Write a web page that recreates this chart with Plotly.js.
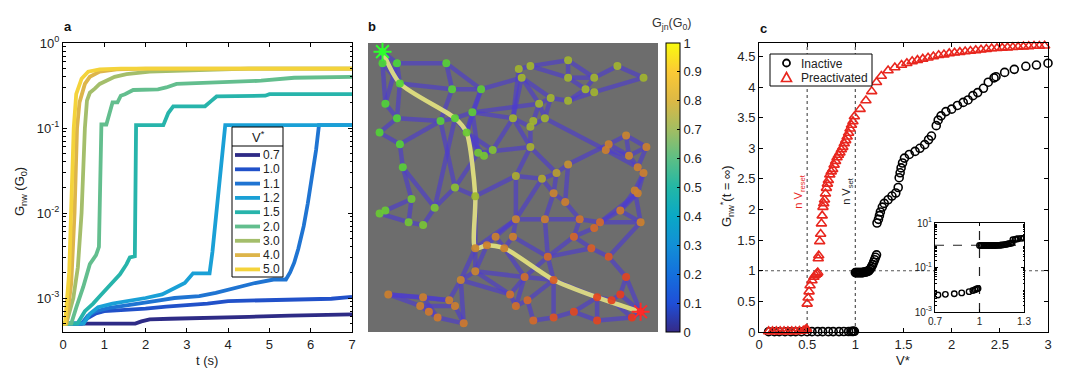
<!DOCTYPE html>
<html><head><meta charset="utf-8">
<script src="https://cdn.plot.ly/plotly-3.0.1.min.js"></script>
<style>body{margin:0;background:#fff}#chart{width:1080px;height:377px}</style>
</head><body><div id="chart"></div>
<script>
// ================= Panel a : G_nw(t) for several V* =================
const vLabels = ['0.7','1.0','1.1','1.2','1.5','2.0','3.0','4.0','5.0'];
const lineColors = ['#2e2b86','#2151c9','#1f74d2','#1aa0d6','#27b4ab','#63be8e','#a4be6b','#ddb54a','#f4d33b'];
const t07 = [0,1.75,1.9,2.1,2.6,3.5,4.5,5.5,7.0];
const g07 = [5.0e-4,5.0e-4,5.3e-4,5.6e-4,5.7e-4,5.9e-4,6.0e-4,6.2e-4,6.4e-4];
const t10 = [0,0.45,0.6,0.8,1.0,1.5,2.0,2.5,3.0,3.5,4.0,4.5,5.5,6.5,7.0];
const g10 = [5e-4,5e-4,5.8e-4,6.6e-4,7.0e-4,7.2e-4,7.5e-4,7.9e-4,8.2e-4,8.6e-4,9.2e-4,9.3e-4,9.5e-4,9.8e-4,1.03e-3];
const t11 = [0,0.45,0.6,0.8,1.1,1.5,1.9,2.3,2.7,3.3,3.7,4.0,4.3,4.65,5.1,5.4,5.5,5.6,5.7,5.83,5.93,6.03,6.13,6.2,7.0];
const g11 = [5e-4,5e-4,6.2e-4,7.0e-4,7.6e-4,8.2e-4,8.7e-4,9.3e-4,1.0e-3,1.05e-3,1.15e-3,1.25e-3,1.35e-3,1.5e-3,1.65e-3,1.65e-3,2.0e-3,2.6e-3,3.8e-3,7e-3,0.013,0.026,0.055,0.108,0.108];
const t12 = [0,0.5,0.65,0.85,1.2,1.6,2.0,2.4,2.7,2.95,3.15,3.55,3.62,3.7,3.78,3.86,3.93,7.0];
const g12 = [5e-4,5e-4,6.5e-4,7.8e-4,8.6e-4,9.2e-4,1.0e-3,1.1e-3,1.3e-3,1.5e-3,1.95e-3,1.95e-3,3.5e-3,8e-3,0.02,0.05,0.108,0.108];
const t15 = [0,0.35,0.53,0.73,0.89,1.13,1.38,1.54,1.62,1.74,1.77,2.43,2.55,2.67,3.44,3.6,3.72,4.9,5.0,7.0];
const g15 = [5e-4,5e-4,7e-4,8.6e-4,1.05e-3,1.4e-3,1.9e-3,2.5e-3,3.0e-3,3.1e-3,0.108,0.108,0.15,0.18,0.18,0.21,0.235,0.24,0.25,0.25];
const t20 = [0,0.2,0.32,0.49,0.65,0.8,0.87,0.93,1.05,1.12,1.2,1.32,1.4,1.5,1.7,2.3,2.5,2.75,3.5,4.8,5.6,7.0];
const g20 = [5e-4,5e-4,7.7e-4,1.35e-3,2.5e-3,3.2e-3,4e-3,0.11,0.11,0.15,0.2,0.2,0.24,0.25,0.28,0.285,0.3,0.33,0.34,0.36,0.39,0.4];
const t30 = [0,0.08,0.25,0.36,0.45,0.53,0.58,0.65,0.77,0.89,1.05,1.25,1.54,2.1,3.3,4.5,7.0];
const g30 = [5e-4,5e-4,1.0e-3,2.3e-3,0.01,0.1,0.21,0.26,0.29,0.33,0.36,0.4,0.43,0.46,0.48,0.5,0.5];
const t40 = [0,0.08,0.2,0.28,0.34,0.4,0.53,0.65,0.89,1.3,2.0,7.0];
const g40 = [5e-4,5e-4,1.5e-3,0.01,0.1,0.2,0.33,0.4,0.46,0.49,0.5,0.5];
const t50 = [0,0.05,0.15,0.2,0.26,0.32,0.45,0.61,0.89,1.4,7.0];
const g50 = [5e-4,5e-4,2e-3,0.01,0.1,0.25,0.38,0.46,0.49,0.5,0.5];
const seriesT = [t07,t10,t11,t12,t15,t20,t30,t40,t50];
const seriesG = [g07,g10,g11,g12,g15,g20,g30,g40,g50];
const aXTicks = [0,1,2,3,4,5,6,7];
const aYTickVals = [1e-3,1e-2,1e-1,1];
const aYTickText = ['10<sup>-3</sup>','10<sup>-2</sup>','10<sup>-1</sup>','10<sup>0</sup>'];

// ================= Panel b : network =================
const nodeX = [5,5,10,27,11,6,29,39,10,25, 30,36,4,11,34,38,40,43,12,30, 15,23,6,4,14,19,37,52,56,69,
  86,95,53,69,78,75,78,63,69,59, 50,61,57,56,56,65,51,60,89,83, 82,90,96,93,95,69,92,93,87,94,
  64,68,51,61,73,80,78,71,77,83, 62,37,44,47,50,41,37,32,54,64, 89,7,19,18,28,30,21,24,33,49,
  51,55,57,64,71,79,79,84,87,91, 94];
const nodeY = [97,93,93,93,86,79,84,84,74,73, 74,76,69,65,69,62,61,63,57,50, 46,43,42,41,38,37,47,91,92,94,
  92,88,88,88,88,84,83,81,80,79, 74,74,73,71,64,55,54,53,68,65, 63,61,64,57,55,58,49,48,42,38,
  48,45,39,39,39,38,36,33,29,26, 26,29,33,29,33,30,21,18,19,18, 19,13,12,9,11,9,7,5,3,13,
  9,11,4,5,7,4,12,11,13,5, 7];
const nodeV = [1.0,0.97,0.97,0.93,0.95,0.95,0.92,0.9,0.95,0.92, 0.92,0.9,0.95,0.94,0.88,0.86,0.85,0.82,0.92,0.8,
  0.86,0.84,0.88,0.88,0.86,0.84,0.74,0.72,0.72,0.72, 0.72,0.72,0.72,0.72,0.72,0.72,0.72,0.72,0.72,0.72,
  0.72,0.72,0.72,0.72,0.70,0.62,0.68,0.66,0.52,0.5, 0.5,0.52,0.5,0.5,0.5,0.56,0.5,0.5,0.48,0.5,
  0.52,0.5,0.52,0.5,0.47,0.42,0.42,0.4,0.36,0.32, 0.42,0.52,0.5,0.5,0.5,0.5,0.52,0.52,0.45,0.35,
  0.22,0.5,0.5,0.5,0.5,0.5,0.48,0.48,0.48,0.46, 0.45,0.42,0.42,0.3,0.25,0.22,0.2,0.18,0.16,0.12, 0.0];
const edges = [[1,2],[1,3],[2,6],[3,6],[2,5],[1,5],[3,4],[3,5],[4,8],[4,7],[5,7],[7,8],[5,9],[7,10],[8,12],[11,12],
  [10,11],[8,15],[12,15],[9,13],[13,14],[14,10],[9,10],[11,15],[15,16],[15,17],[16,17],[17,18],[12,40],[12,16],
  [14,19],[19,21],[19,22],[21,23],[21,25],[23,24],[24,25],[25,26],[22,26],[22,20],[20,10],[20,27],[20,16],[16,45],
  [18,41],[15,18],[22,11],[12,41],[8,33],[6,9],
  [28,29],[29,30],[30,34],[33,28],[29,34],[33,38],[34,35],[35,31],[31,32],[32,37],[35,36],[36,37],[34,36],[38,39],
  [39,36],[38,40],[33,40],[40,43],[43,44],[44,42],[42,38],[41,44],[41,45],[44,45],[45,47],[45,46],[47,48],[48,46],
  [46,56],[56,50],[50,49],[49,53],[53,52],[52,51],[51,50],[49,52],[53,54],[54,55],[55,57],[57,58],[58,59],[59,60],
  [57,59],[42,51],[33,41],[28,41],[39,37],[30,35],[40,42],[52,54],[51,54],[50,52],
  [46,61],[48,61],[61,62],[61,64],[62,65],[63,64],[64,65],[65,66],[66,67],[67,68],[68,69],[69,70],[65,68],[66,59],
  [58,66],[60,70],[56,62],[47,63],[48,63],[27,72],[63,72],[72,76],[76,73],[73,74],[74,75],[75,63],[73,63],[72,77],
  [77,78],[76,77],[79,80],[71,80],[71,69],[71,64],[70,81],[81,99],[81,101],[80,97],[79,90],[90,91],[91,92],[92,93],
  [93,94],[94,95],[95,96],[96,100],[100,101],[97,98],[98,99],[99,101],[97,95],[98,100],[97,96],[82,83],[82,84],
  [83,85],[84,87],[85,86],[86,89],[87,88],[88,89],[83,88],[85,78],[82,85],[84,86],[78,90],[77,79],[72,78],[71,79],
  [80,94],[80,92],[74,79],[75,71],[79,91],[78,89],[77,90],[68,71],[57,60],[55,58],[47,27],[60,66]];
const pathNodes = [1,5,11,15,27,72,76,74,80,97,101];
const sourceNode = 1, drainNode = 101;
const cbTickVals = [0,0.1,0.2,0.3,0.4,0.5,0.6,0.7,0.8,0.9,1];
const cbTickText = ['0','0.1','0.2','0.3','0.4','0.5','0.6','0.7','0.8','0.9','1'];
const parula = [[0,'#352a87'],[0.1,'#1f4fd8'],[0.2,'#1470dd'],[0.3,'#128fd6'],[0.4,'#0aa8c6'],[0.5,'#22b7a6'],
  [0.6,'#5cbf85'],[0.7,'#a2bd62'],[0.8,'#dcb845'],[0.9,'#fbc935'],[1,'#f9fb0e']];
const nodeScale = [[0,'#f02818'],[0.25,'#e04a20'],[0.45,'#d0702a'],[0.55,'#c89030'],[0.7,'#a8b22c'],[0.8,'#8cc030'],[0.9,'#60cc34'],[1,'#44dc38']];

// ================= Panel c : G_nw*(t=inf) vs V* =================
const inactiveV = [0.10,0.16,0.21,0.27,0.33,0.38,0.44,0.50,0.55,0.61,0.66,0.72,0.77,0.83,0.88,0.93,0.955,0.97,0.98,0.99,
  1.00,1.01,1.02,1.03,1.04,1.05,1.06,1.07,1.08,1.09,1.10,1.11,1.12,1.13,1.14,1.15,1.16,1.17,1.18,1.19,1.20,1.21,1.22,
  1.225,1.24,1.25,1.26,1.28,1.30,1.34,1.38,1.42,1.445,1.455,1.465,1.475,1.49,1.51,1.56,1.62,1.67,1.72,1.76,
  1.79,1.84,1.86,1.89,1.94,2.00,2.06,2.12,2.17,2.22,2.27,2.33,2.38,2.44,2.46,2.55,2.65,2.77,2.88,3.00];
const inactiveG = [0.005,0.005,0.005,0.005,0.005,0.005,0.005,0.005,0.0054,0.0056,0.0057,0.0058,0.0062,0.0066,0.0072,0.0082,0.0092,0.0100,0.0108,0.0115,
  0.97,0.97,0.97,0.97,0.97,0.97,0.97,0.97,0.97,0.98,0.98,0.98,0.99,0.99,1.0,1.02,1.04,1.07,1.1,1.14,1.18,1.22,1.26,
  1.78,1.84,1.90,1.96,2.04,2.10,2.16,2.22,2.27,2.36,2.52,2.60,2.68,2.76,2.84,2.90,2.95,3.00,3.06,3.14,
  3.20,3.37,3.46,3.53,3.60,3.64,3.70,3.75,3.79,3.86,3.91,3.98,4.08,4.15,4.17,4.24,4.29,4.34,4.36,4.39];
const preV = [0.10,0.14,0.18,0.22,0.26,0.30,0.34,0.38,0.42,0.46,0.48,0.49,0.495,
  0.50,0.51,0.52,0.53,0.55,0.57,0.585,0.60,0.61,0.615,0.62,0.63,0.64,0.648,0.656,0.664,0.672,0.68,0.69,0.70,
  0.71,0.72,0.735,0.75,0.765,0.78,0.795,0.81,0.825,0.84,0.855,0.87,0.885,0.90,0.915,0.93,0.945,0.96,0.975,0.99,
  1.05,1.11,1.17,1.22,1.27,1.34,1.41,1.48,1.535,1.59,1.645,1.70,1.755,1.81,1.865,1.92,1.975,2.03,2.085,2.14,2.195,
  2.25,2.305,2.36,2.415,2.47,2.525,2.58,2.635,2.69,2.745,2.80,2.855,2.91,2.965,3.02];
const preG = [0.01,0.01,0.01,0.01,0.01,0.01,0.01,0.01,0.015,0.02,0.03,0.04,0.05,
  0.46,0.56,0.66,0.76,0.84,0.90,0.93,0.95,0.97,1.20,1.25,1.48,1.60,1.77,1.90,2.04,2.10,2.16,2.26,2.35,
  2.42,2.48,2.57,2.62,2.66,2.73,2.79,2.85,2.89,2.93,2.98,3.02,3.08,3.13,3.19,3.25,3.32,3.38,3.44,3.52,
  3.64,3.78,3.93,4.08,4.18,4.27,4.32,4.36,4.39,4.42,4.44,4.46,4.48,4.50,4.52,4.53,4.55,4.56,4.57,4.58,4.59,
  4.60,4.61,4.62,4.63,4.635,4.64,4.645,4.65,4.655,4.66,4.665,4.67,4.67,4.675,4.68];
const vReset = 0.5, vSet = 1.0, gRef = 1.0;
const insetXTicks = [0.7,1,1.3];
const insetXText = ['0.7','1','1.3'];
const insetYTicks = [1e-3,1e-1,10];
const insetYText = ['10<sup>-3</sup>','10<sup>-1</sup>','10<sup>1</sup>'];
const legendC = ['Inactive','Preactivated'];
const inactiveColor = '#000000', preColor = '#e8261e';

// ================= build =================
const FONT = 'Liberation Sans, Arial, sans-serif';
const W = 1080, H = 377;
const px = x => x / W, py = y => 1 - y / H;
const traces = [];

seriesT.forEach((t, i) => traces.push({
  type:'scatter', mode:'lines', x:t, y:seriesG[i], xaxis:'x', yaxis:'y',
  line:{color:lineColors[i], width:3.8}, hoverinfo:'skip', showlegend:false
}));

// network edges
const ex = [], ey = [];
edges.forEach(([a,b]) => { ex.push(nodeX[a-1], nodeX[b-1], null); ey.push(nodeY[a-1], nodeY[b-1], null); });
traces.push({type:'scatter', mode:'lines', x:ex, y:ey, xaxis:'x2', yaxis:'y2',
  line:{color:'rgba(76,60,208,0.64)', width:4.5}, hoverinfo:'skip', showlegend:false});
traces.push({type:'scatter', mode:'lines', x:pathNodes.map(n=>nodeX[n-1]), y:pathNodes.map(n=>nodeY[n-1]),
  xaxis:'x2', yaxis:'y2', line:{color:'rgba(230,228,128,0.9)', width:4.5, shape:'spline', smoothing:0.7},
  hoverinfo:'skip', showlegend:false});
traces.push({type:'scatter', mode:'markers', x:nodeX, y:nodeY, xaxis:'x2', yaxis:'y2', cliponaxis:false,
  marker:{size:8, color:nodeV, colorscale:nodeScale, cmin:0, cmax:1, opacity:0.92, line:{width:0}},
  hoverinfo:'skip', showlegend:false});
traces.push({type:'scatter', mode:'markers', x:[nodeX[sourceNode-1]], y:[nodeY[sourceNode-1]], xaxis:'x2', yaxis:'y2',
  cliponaxis:false, marker:{symbol:'asterisk-open', size:15, color:'#2cff2c', line:{color:'#2cff2c', width:2}}, hoverinfo:'skip', showlegend:false});
traces.push({type:'scatter', mode:'markers', x:[nodeX[drainNode-1]], y:[nodeY[drainNode-1]], xaxis:'x2', yaxis:'y2',
  cliponaxis:false, marker:{symbol:'asterisk-open', size:15, color:'#ff2a2a', line:{color:'#ff2a2a', width:2}}, hoverinfo:'skip', showlegend:false});
// colorbar carrier
traces.push({type:'scatter', mode:'markers', x:[50,50], y:[50,50], xaxis:'x2', yaxis:'y2',
  marker:{size:1, opacity:0, color:[0,1], colorscale:parula, cmin:0, cmax:1, showscale:true,
    colorbar:{x:px(666), xanchor:'left', y:py(43), yanchor:'top', len:289, lenmode:'pixels', thickness:14,
      thicknessmode:'pixels', xpad:0, ypad:0, outlinewidth:1, outlinecolor:'#000', tickmode:'array',
      tickvals:cbTickVals, ticktext:cbTickText, ticks:'inside', ticklen:3, tickcolor:'#000',
      tickfont:{family:FONT, size:13, color:'#222'}}},
  hoverinfo:'skip', showlegend:false});

// panel c reference lines
const refLine = {color:'#555', width:1.2, dash:'dot'};
traces.push({type:'scatter', mode:'lines', x:[0,3], y:[gRef,gRef], xaxis:'x3', yaxis:'y3', line:refLine, hoverinfo:'skip', showlegend:false});
traces.push({type:'scatter', mode:'lines', x:[vReset,vReset], y:[0,4.72], xaxis:'x3', yaxis:'y3', line:refLine, hoverinfo:'skip', showlegend:false});
traces.push({type:'scatter', mode:'lines', x:[vSet,vSet], y:[0,4.72], xaxis:'x3', yaxis:'y3', line:refLine, hoverinfo:'skip', showlegend:false});
traces.push({type:'scatter', mode:'markers', x:inactiveV, y:inactiveG, xaxis:'x3', yaxis:'y3', cliponaxis:false,
  marker:{symbol:'circle-open', size:8, color:inactiveColor, line:{color:inactiveColor, width:1.6}}, hoverinfo:'skip', showlegend:false});
traces.push({type:'scatter', mode:'markers', x:preV, y:preG, xaxis:'x3', yaxis:'y3', cliponaxis:false,
  marker:{symbol:'triangle-up-open', size:9, color:preColor, line:{color:preColor, width:1.6}}, hoverinfo:'skip', showlegend:false});
// inset
const dash = {color:'#222', width:1.2, dash:'dash'};
traces.push({type:'scatter', mode:'lines', x:[0.7,1.3], y:[gRef,gRef], xaxis:'x4', yaxis:'y4', line:dash, hoverinfo:'skip', showlegend:false});
traces.push({type:'scatter', mode:'lines', x:[vSet,vSet], y:[1e-3,10], xaxis:'x4', yaxis:'y4', line:dash, hoverinfo:'skip', showlegend:false});
traces.push({type:'scatter', mode:'markers', x:inactiveV, y:inactiveG, xaxis:'x4', yaxis:'y4',
  marker:{symbol:'circle-open', size:5.5, color:inactiveColor, line:{color:inactiveColor, width:1.4}}, hoverinfo:'skip', showlegend:false});

// minor ticks for log axes
const minorA = [];
for (let d=-4; d<0; d++) for (let k=2; k<10; k++) { const v=k*Math.pow(10,d); if (v>Math.pow(10,-3.4)) minorA.push(v); }
const minorI = [];
for (let d=-3; d<1; d++) for (let k=2; k<10; k++) minorI.push(k*Math.pow(10,d));

const tickF = {family:FONT, size:13, color:'#222'};
const base = {showline:true, linecolor:'#000', linewidth:1, mirror:'ticks', ticks:'inside', ticklen:4,
  tickcolor:'#000', showgrid:false, zeroline:false, tickfont:tickF, fixedrange:true};
const yDom = [py(332), py(43)];

const layout = {
  width:W, height:H, margin:{l:0,r:0,t:0,b:0, autoexpand:false}, paper_bgcolor:'#fff', plot_bgcolor:'#fff',
  showlegend:false, hovermode:false, font:{family:FONT, color:'#222'},
  xaxis:Object.assign({}, base, {domain:[px(63),px(352)], range:[0,7], tickmode:'array', tickvals:aXTicks, anchor:'y'}),
  yaxis:Object.assign({}, base, {domain:yDom, type:'log', range:[-3.4,0], tickmode:'array', tickvals:aYTickVals,
    ticktext:aYTickText, anchor:'x', minor:{tickmode:'array', tickvals:minorA, ticks:'inside', ticklen:2.5, tickcolor:'#000'}}),
  xaxis2:{domain:[px(368),px(658)], range:[0,100], visible:false, anchor:'y2', fixedrange:true},
  yaxis2:{domain:yDom, range:[0,100], visible:false, anchor:'x2', fixedrange:true},
  xaxis3:Object.assign({}, base, {domain:[px(759),px(1048)], range:[0,3], dtick:0.5, tick0:0, anchor:'y3'}),
  yaxis3:Object.assign({}, base, {domain:yDom, range:[0,4.72], dtick:0.5, tick0:0, anchor:'x3'}),
  xaxis4:Object.assign({}, base, {domain:[px(935),px(1024)], range:[0.7,1.3], tickmode:'array', tickvals:insetXTicks,
    ticktext:insetXText, ticklen:3, tickfont:{family:FONT, size:10, color:'#222'}, anchor:'y4'}),
  yaxis4:Object.assign({}, base, {domain:[py(312),py(223)], type:'log', range:[-3,1], tickmode:'array', tickvals:insetYTicks,
    ticktext:insetYText, ticklen:3, tickfont:{family:FONT, size:10, color:'#222'}, anchor:'x4',
    minor:{tickmode:'array', tickvals:minorI, ticks:'inside', ticklen:1.5, tickcolor:'#000'}}),
  shapes:[], annotations:[]
};

// panel b background
layout.shapes.push({type:'rect', xref:'x2 domain', yref:'y2 domain', x0:0, x1:1, y0:0, y1:1, layer:'below',
  fillcolor:'#6d6d6d', line:{width:0}});

// generic paper-positioned text
const ann = (x,y,text,opt) => layout.annotations.push(Object.assign({xref:'paper', yref:'paper', x:px(x), y:py(y),
  xanchor:'center', yanchor:'middle', text, showarrow:false, font:{family:FONT, size:12, color:'#222'}}, opt||{}));

// panel a legend
layout.shapes.push({type:'rect', xref:'paper', yref:'paper', x0:px(232), x1:px(283), y0:py(277), y1:py(127),
  fillcolor:'#fff', line:{color:'#000', width:1}, layer:'above'});
layout.shapes.push({type:'line', xref:'paper', yref:'paper', x0:px(232), x1:px(283), y0:py(146), y1:py(146),
  line:{color:'#000', width:1}, layer:'above'});
ann(258,137,'V<sup>*</sup>',{font:{family:FONT, size:13, color:'#222'}});
vLabels.forEach((lab, i) => {
  const yy = 155 + i*14.3;
  layout.shapes.push({type:'line', xref:'paper', yref:'paper', x0:px(235), x1:px(260), y0:py(yy), y1:py(yy),
    line:{color:lineColors[i], width:3.8}, layer:'above'});
  ann(261, yy, lab, {xanchor:'left', font:{family:FONT, size:12, color:'#222'}});
});

// panel c legend
layout.shapes.push({type:'rect', xref:'paper', yref:'paper', x0:px(770), x1:px(872), y0:py(86), y1:py(54),
  fillcolor:'#fff', line:{color:'#000', width:1}, layer:'above'});
layout.shapes.push({type:'circle', xref:'paper', yref:'paper', x0:px(783), x1:px(790), y0:py(66.5), y1:py(59.5),
  line:{color:inactiveColor, width:1.8}, layer:'above'});
layout.shapes.push({type:'path', xref:'paper', yref:'paper',
  path:`M ${px(786.5)} ${py(72.5)} L ${px(781.5)} ${py(81.5)} L ${px(791.5)} ${py(81.5)} Z`,
  line:{color:preColor, width:1.6}, layer:'above'});
legendC.forEach((lab, i) => ann(799, 63.5 + i*14.5, lab, {xanchor:'left', font:{family:FONT, size:12, color:'#222'}}));

// titles / labels
ann(68,27,'<b>a</b>',{font:{family:FONT,size:13,color:'#111'}});
ann(372,27,'<b>b</b>',{font:{family:FONT,size:13,color:'#111'}});
ann(763,28,'<b>c</b>',{font:{family:FONT,size:13,color:'#111'}});
ann(20,192,'G<sub>nw</sub> (G<sub>0</sub>)',{textangle:-90, font:{family:FONT,size:13,color:'#222'}});
ann(207,360,'t (s)',{font:{family:FONT,size:13,color:'#222'}});
ann(671,24,'G<sub>jn</sub>(G<sub>0</sub>)',{font:{family:FONT,size:12.5,color:'#333'}});
ann(727,196,'G<sub>nw</sub><sup>*</sup>(t = ∞)',{textangle:-90, font:{family:FONT,size:13,color:'#222'}});
ann(903,360,'V*',{font:{family:FONT,size:13,color:'#222'}});
layout.annotations.push({xref:'x3', yref:'y3', x:0.42, y:2.3, xanchor:'center', yanchor:'middle', text:'n V<sub>reset</sub>',
  textangle:-90, showarrow:false, font:{family:FONT, size:11, color:preColor}});
layout.annotations.push({xref:'x3', yref:'y3', x:0.92, y:2.3, xanchor:'center', yanchor:'middle', text:'n V<sub>set</sub>',
  textangle:-90, showarrow:false, font:{family:FONT, size:11, color:'#222'}});

Plotly.newPlot('chart', traces, layout, {staticPlot:true, displayModeBar:false});
</script></body></html>
